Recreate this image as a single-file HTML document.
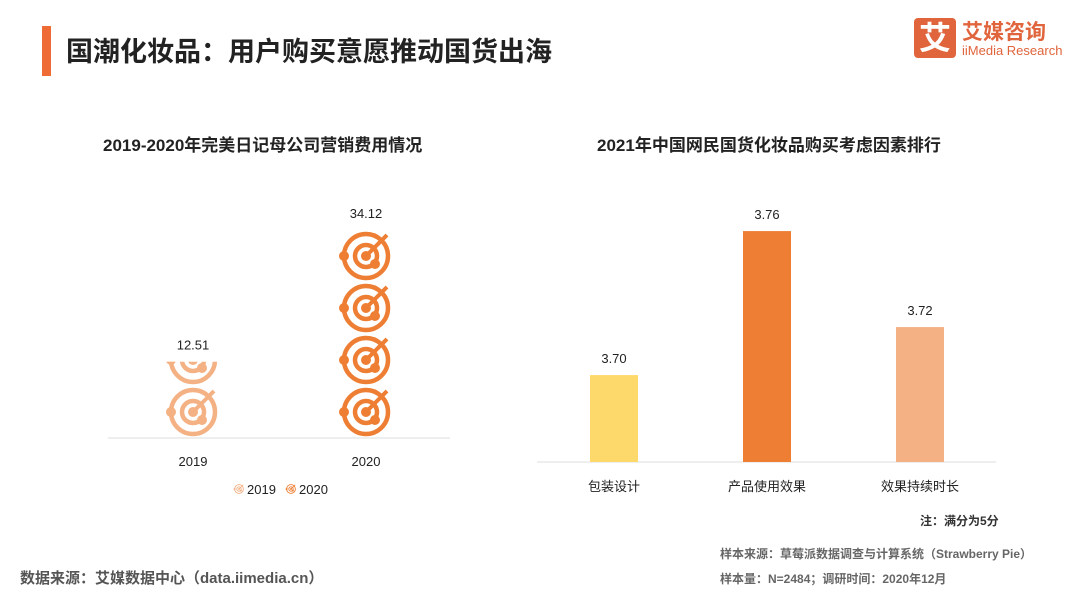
<!DOCTYPE html>
<html><head><meta charset="utf-8"><style>
body{margin:0;width:1080px;height:608px;background:#fff;font-family:"Liberation Sans","Noto Sans CJK SC",sans-serif;overflow:hidden;position:relative}
.t{position:absolute;white-space:nowrap}
</style></head><body>
<div class="t" style="left:42px;top:26px;width:9px;height:50px;background:#EF6B35"></div>
<div class="t" style="left:66px;top:30px;font-size:27px;font-weight:bold;color:#222">国潮化妆品：用户购买意愿推动国货出海</div>
<div class="t" style="left:914px;top:18px;width:42px;height:40px;background:#E0643C;border-radius:4px;color:#fff;font-size:32px;font-weight:bold;text-align:center;line-height:40px">艾</div>
<div class="t" style="left:962px;top:16px;font-size:21px;font-weight:bold;color:#E0643C">艾媒咨询</div>
<div class="t" style="left:962px;top:43px;font-size:13px;color:#E0643C">iiMedia Research</div>

<div class="t" style="left:103px;top:131px;font-size:17px;font-weight:bold;color:#222">2019-2020年完美日记母公司营销费用情况</div>
<div class="t" style="left:597px;top:131px;font-size:17px;font-weight:bold;color:#222">2021年中国网民国货化妆品购买考虑因素排行</div>

<svg id="c" width="1080" height="608" style="position:absolute;left:0;top:0">
<defs>
<g id="ic">
<circle cx="0" cy="0" r="22" fill="none" stroke-width="4.5"/>
<circle cx="0" cy="0" r="11" fill="none" stroke-width="4.5"/>
<line x1="0" y1="0" x2="21" y2="-21" stroke-width="4"/>
<circle cx="0" cy="0" r="4.5"/>
<circle cx="-22" cy="0" r="4.5"/>
<circle cx="9" cy="8" r="4.5"/>
</g>
</defs>
</svg>

<div class="t" style="left:920px;top:512px;font-size:12px;color:#333;font-weight:bold">注：满分为5分</div>
<div class="t" style="left:720px;top:545px;font-size:12px;color:#666;font-weight:bold">样本来源：草莓派数据调查与计算系统（Strawberry Pie）</div>
<div class="t" style="left:720px;top:570px;font-size:12px;color:#666;font-weight:bold">样本量：N=2484；调研时间：2020年12月</div>
<div class="t" style="left:20px;top:567px;font-size:15px;color:#555;font-weight:bold">数据来源：艾媒数据中心（data.iimedia.cn）</div>

<script>
const leftCats=["2019","2020"];
const leftVals=[12.51,34.12];
const leftColors=["#F4B183","#EE7E33"];
const rightCats=["包装设计","产品使用效果","效果持续时长"];
const rightVals=[3.70,3.76,3.72];
const rightLabels=["3.70","3.76","3.72"];
const rightColors=["#FDD86A","#EE7E33","#F4B183"];
const NS="http://www.w3.org/2000/svg";
const svg=document.getElementById('c');
function mk(t,a){const e=document.createElementNS(NS,t);for(const k in a)e.setAttribute(k,a[k]);svg.appendChild(e);return e;}
// left chart
const lBase=438, lScale=208/34.12, lx=i=>193+i*173, icon=52;
const ax=mk('line',{x1:108,y1:lBase,x2:450,y2:lBase,stroke:'#ddd','stroke-width':1});


leftVals.forEach((v,i)=>{
  const h=v*lScale, cx=lx(i);
  const cp=document.createElementNS(NS,'clipPath');cp.setAttribute('id','cp'+i);
  const r=document.createElementNS(NS,'rect');r.setAttribute('x',cx-40);r.setAttribute('y',lBase-h);r.setAttribute('width',80);r.setAttribute('height',h);
  cp.appendChild(r);svg.querySelector('defs').appendChild(cp);
  const g=mk('g',{'clip-path':'url(#cp'+i+')',fill:leftColors[i],stroke:leftColors[i]});
  
  
  const n=Math.ceil(h/icon);
  for(let k=0;k<n;k++){const u=document.createElementNS(NS,'use');u.setAttribute('href','#ic');u.setAttribute('x',cx);u.setAttribute('y',lBase-26-k*icon);g.appendChild(u);}
  const t=mk('text',{x:cx,y:lBase-h-12,'text-anchor':'middle','font-size':13,fill:'#222'});t.textContent=v.toFixed(2);
  
  
  const c=mk('text',{x:cx,y:lBase+28,'text-anchor':'middle','font-size':13,fill:'#222'});c.textContent=leftCats[i];
  
  
  const lx0=234+i*52;
  const lg=mk('g',{fill:leftColors[i],stroke:leftColors[i],transform:`translate(${lx0+5},489) scale(0.2)`});
  
  
  const u=document.createElementNS(NS,'use');u.setAttribute('href','#ic');lg.appendChild(u);
  const lt=mk('text',{x:lx0+13,y:494,'font-size':13,fill:'#222'});lt.textContent=leftCats[i];
  
  
});
// right chart
const rBase=462, rMean=3.7267, rMeanH=151, rScale=2400, rx=i=>614+i*153, bw=48;
const ax2=mk('line',{x1:537,y1:rBase,x2:996,y2:rBase,stroke:'#ddd','stroke-width':1});


rightVals.forEach((v,i)=>{
  const h=rMeanH+(v-rMean)*rScale, cx=rx(i);
  const b=mk('rect',{x:cx-bw/2,y:rBase-h,width:bw,height:h,fill:rightColors[i]});
  
  
  const t=mk('text',{x:cx,y:rBase-h-12,'text-anchor':'middle','font-size':13,fill:'#222'});t.textContent=rightLabels[i];
  
  
  const c=mk('text',{x:cx,y:rBase+29,'text-anchor':'middle','font-size':13,fill:'#222'});c.textContent=rightCats[i];
  
  
});
</script>
</body></html>
